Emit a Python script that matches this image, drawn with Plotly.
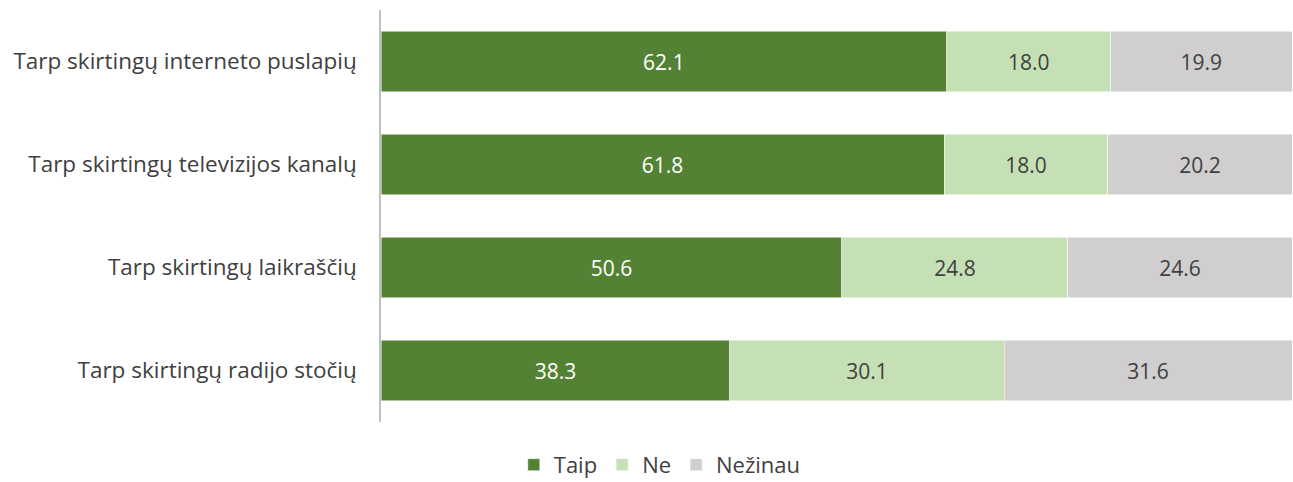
import plotly.graph_objects as go

categories = ["Tarp skirtingų interneto puslapių", "Tarp skirtingų televizijos kanalų",
              "Tarp skirtingų laikraščių", "Tarp skirtingų radijo stočių"]
series_names = ["Taip", "Ne", "Nežinau"]
taip = [62.1, 61.8, 50.6, 38.3]
ne = [18.0, 18.0, 24.8, 30.1]
nezinau = [19.9, 20.2, 24.6, 31.6]

colors = ["#548235", "#C5E0B4", "#D0CECE"]
text_colors = ["#FFFFFF", "#404040", "#404040"]
FONT = "Open Sans"

fig = go.Figure()
for name, vals, c, tc in zip(series_names, [taip, ne, nezinau], colors, text_colors):
    fig.add_trace(go.Bar(
        y=categories, x=vals, name=name, orientation="h",
        marker=dict(color=c, line=dict(color="#FFFFFF", width=0.5)),
        text=[f"{v:.1f}" for v in vals], textposition="inside",
        insidetextanchor="middle",
        textfont=dict(color=tc, size=21, family=FONT),
        hoverinfo="skip",
    ))

fig.update_layout(
    barmode="stack", bargap=0.41,
    width=1293, height=482,
    margin=dict(l=381, r=1, t=10, b=60, autoexpand=False),
    plot_bgcolor="white", paper_bgcolor="white",
    font=dict(family=FONT, color="#404040", size=22),
    legend=dict(orientation="h", xref="paper", yref="paper",
                x=0.306, xanchor="center", y=-0.104, yanchor="middle",
                font=dict(size=22, color="#404040", family=FONT),
                traceorder="normal", itemwidth=30),
    showlegend=True,
)
fig.update_xaxes(range=[0, 100], visible=False, showgrid=False)
fig.update_yaxes(autorange="reversed", showline=True, linecolor="#BFBFBF", linewidth=1.5,
                 ticks="", showgrid=False, ticklabelstandoff=18,
                 tickfont=dict(size=22.5, color="#404040", family=FONT))

post = ("document.body.style.margin='0';document.body.style.overflow='hidden';"
        "Plotly.relayout(document.getElementById('{plot_id}'), {width:1293, height:482});")
fig.write_html("out.html", post_script=post, config={"displayModeBar": False})
